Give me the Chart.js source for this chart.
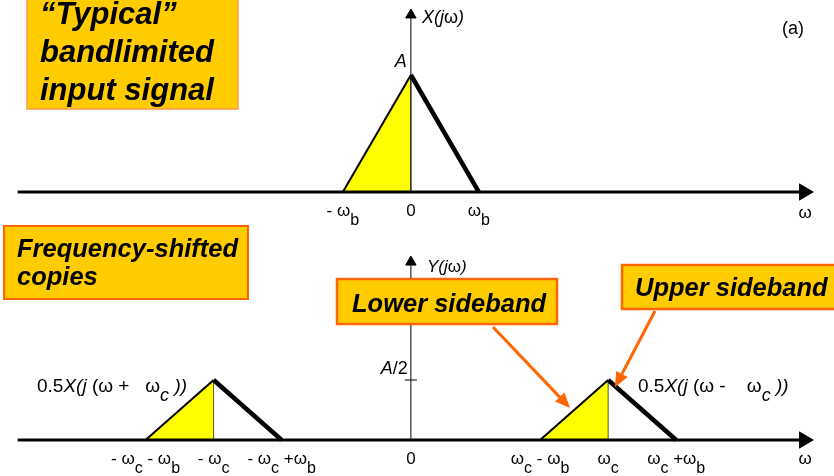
<!DOCTYPE html>
<html>
<head>
<meta charset="utf-8">
<script src="https://cdn.jsdelivr.net/npm/chart.js@4.4.0/dist/chart.umd.min.js"></script>
<style>
  body { margin: 0; background: #fff; }
  canvas { display: block; }
</style>
</head>
<body>
<canvas id="myChart" width="834" height="476"></canvas>
<script>
// frequencies in units of omega_b, magnitudes in units of A
const axisW = [-5.78, 5.78];
const topAxisHeight = 1.513;
const bottomAxisHeight = 1.483;

const inputW = [-1, 0, 1];
const inputMag = [0, 1, 0];

const lowerCopyW = [-3.9, -2.9, -1.9];
const upperCopyW = [1.9, 2.9, 3.9];
const copyMag = [0, 0.5, 0];

const topTickW = [-1, 0, 1];
const topTickText = ['- ω_b', '0', 'ω_b'];
const bottomTickW = [-3.9, -2.9, -1.9, 0, 1.9, 2.9, 3.9];
const bottomTickText = ['- ω_c - ω_b', '- ω_c', '- ω_c +ω_b', '0', 'ω_c - ω_b', 'ω_c', 'ω_c +ω_b'];
const halfTick = 0.5;

const FONT = '"Liberation Sans", Arial, sans-serif';
const YELLOW = '#FFFF00';
const GOLD = '#FFCC00';
const ORANGE = '#FF6600';

function pts(xs, ys) {
  return xs.map((x, i) => ({ x: x, y: ys[i] }));
}

// one triangle = yellow left half + thin left edge, centre line, thick right edge
function triangle(w, m, axisId) {
  return [
    {
      data: pts([w[0], w[1]], [m[0], m[1]]),
      yAxisID: axisId,
      fill: 'origin',
      backgroundColor: YELLOW,
      borderColor: '#000',
      borderWidth: 2,
      order: 5
    },
    {
      data: pts([w[1], w[1]], [0, m[1]]),
      yAxisID: axisId,
      borderColor: '#5a5a00',
      borderWidth: 1,
      order: 4
    },
    {
      data: pts([w[1], w[2]], [m[1], m[2]]),
      yAxisID: axisId,
      borderColor: '#000',
      borderWidth: 4.5,
      order: 1
    }
  ];
}

function axes(axisId, height) {
  return [
    {
      data: pts(axisW, [0, 0]),
      yAxisID: axisId,
      borderColor: '#000',
      borderWidth: 3,
      pointRadius: [0, 7],
      pointStyle: 'triangle',
      rotation: 90,
      pointBackgroundColor: '#000',
      pointBorderColor: '#000',
      order: 2
    },
    {
      data: pts([0, 0], [0, height]),
      yAxisID: axisId,
      borderColor: '#000',
      borderWidth: 1,
      pointRadius: [0, 6],
      pointStyle: 'triangle',
      rotation: 0,
      pointBackgroundColor: '#000',
      pointBorderColor: '#000',
      order: 3
    }
  ];
}

// rich text: * toggles italic, _x makes x a subscript
function parseRich(text) {
  let segs = [];
  let italic = false;
  for (let i = 0; i < text.length; i++) {
    let c = text[i];
    if (c === '*') { italic = !italic; continue; }
    let sub = false;
    if (c === '_') { sub = true; i++; c = text[i]; }
    let last = segs[segs.length - 1];
    if (last && last.italic === italic && last.sub === sub) last.t += c;
    else segs.push({ t: c, italic: italic, sub: sub });
  }
  return segs;
}

function richFont(seg, size) {
  return (seg.italic ? 'italic ' : '') + (seg.sub ? size - 1 : size) + 'px ' + FONT;
}

function drawRich(ctx, text, x, y, size, align) {
  const segs = parseRich(text);
  let total = 0;
  segs.forEach(s => { ctx.font = richFont(s, size); total += ctx.measureText(s.t).width; });
  let cx = align === 'center' ? x - total / 2 : (align === 'right' ? x - total : x);
  ctx.textAlign = 'left';
  ctx.textBaseline = 'alphabetic';
  segs.forEach(s => {
    ctx.font = richFont(s, size);
    ctx.fillText(s.t, cx, s.sub ? y + 9 : y);
    cx += ctx.measureText(s.t).width;
  });
}

function box(ctx, x, y, w, h, border, bw) {
  ctx.fillStyle = GOLD;
  ctx.fillRect(x, y, w, h);
  ctx.strokeStyle = border;
  ctx.lineWidth = bw;
  ctx.strokeRect(x, y, w, h);
}

function boxText(ctx, lines, x, y0, lh, size) {
  ctx.fillStyle = '#000';
  ctx.font = 'italic bold ' + size + 'px ' + FONT;
  ctx.textAlign = 'left';
  ctx.textBaseline = 'alphabetic';
  lines.forEach((l, i) => ctx.fillText(l, x, y0 + i * lh));
}

function arrow(ctx, x0, y0, x1, y1) {
  const ang = Math.atan2(y1 - y0, x1 - x0);
  const len = 15, hw = 6.5;
  const bx = x1 - Math.cos(ang) * len, by = y1 - Math.sin(ang) * len;
  ctx.strokeStyle = ORANGE;
  ctx.lineWidth = 3;
  ctx.beginPath();
  ctx.moveTo(x0, y0);
  ctx.lineTo(bx, by);
  ctx.stroke();
  ctx.fillStyle = ORANGE;
  ctx.beginPath();
  ctx.moveTo(x1, y1);
  ctx.lineTo(bx - Math.sin(ang) * hw, by + Math.cos(ang) * hw);
  ctx.lineTo(bx + Math.sin(ang) * hw, by - Math.cos(ang) * hw);
  ctx.closePath();
  ctx.fill();
}

const labelsPlugin = {
  id: 'labels',
  afterDatasetsDraw(chart) {
    const ctx = chart.ctx;
    const sx = chart.scales.x;
    const sy = chart.scales.y;
    const sy2 = chart.scales.y2;
    ctx.save();
    ctx.fillStyle = '#000';

    // tick labels
    const topBase = sy.getPixelForValue(0) + 24;
    topTickW.forEach((w, i) => drawRich(ctx, topTickText[i], sx.getPixelForValue(w), topBase, 17, 'center'));
    const botBase = sy2.getPixelForValue(0) + 24;
    bottomTickW.forEach((w, i) => drawRich(ctx, bottomTickText[i], sx.getPixelForValue(w), botBase, 17, 'center'));
    drawRich(ctx, 'ω', sx.getPixelForValue(axisW[1]) + 1, topBase + 2, 17, 'center');
    drawRich(ctx, 'ω', sx.getPixelForValue(axisW[1]) + 1, botBase, 17, 'center');

    // axis names and amplitude marks
    const x0 = sx.getPixelForValue(0);
    drawRich(ctx, '*X(j*ω*)*', x0 + 11, 23, 18, 'left');
    drawRich(ctx, '*A*', x0 - 10, sy.getPixelForValue(inputMag[1]) - 8, 18, 'center');
    drawRich(ctx, '*Y(j*ω*)*', x0 + 16, 272, 17, 'left');
    drawRich(ctx, '*A*/2', x0 - 3, sy2.getPixelForValue(halfTick) - 6, 18, 'right');
    drawRich(ctx, '(a)', 793, 34, 18, 'center');

    // copy labels
    drawRich(ctx, '0.5*X(j* (ω +   ω*_c ))*', 37, 392, 19, 'left');
    drawRich(ctx, '0.5*X(j* (ω -    ω*_c ))*', 638, 392, 19, 'left');

    // callout boxes
    box(ctx, 27, -5, 211, 114, '#FF9A4D', 1.5);
    boxText(ctx, ['“Typical”', 'bandlimited', 'input signal'], 40, 24, 38, 31);
    box(ctx, 4, 226, 244, 73, ORANGE, 2);
    boxText(ctx, ['Frequency-shifted', 'copies'], 17, 257, 28, 25.5);
    box(ctx, 337, 279, 220, 45, ORANGE, 2.5);
    boxText(ctx, ['Lower sideband'], 352, 312, 0, 25.5);
    box(ctx, 622, 265, 240, 44, ORANGE, 2.5);
    boxText(ctx, ['Upper sideband'], 635, 296, 0, 25.5);

    // callout arrows point at the sidebands
    arrow(ctx, 493, 327, sx.getPixelForValue(2.34), sy2.getPixelForValue(0.267));
    arrow(ctx, 655, 311, sx.getPixelForValue(3.0), sy2.getPixelForValue(0.44));
    ctx.restore();
  }
};

const datasets = []
  .concat(axes('y', topAxisHeight))
  .concat(triangle(inputW, inputMag, 'y'))
  .concat(axes('y2', bottomAxisHeight))
  .concat(triangle(lowerCopyW, copyMag, 'y2'))
  .concat(triangle(upperCopyW, copyMag, 'y2'))
  .concat([{
    data: pts([-0.09, 0.09], [halfTick, halfTick]),
    yAxisID: 'y2',
    borderColor: '#000',
    borderWidth: 1,
    order: 3
  }]);

datasets.forEach(d => {
  if (d.pointRadius === undefined) d.pointRadius = 0;
  if (d.fill === undefined) d.fill = false;
  d.tension = 0;
});

var ctx = document.getElementById('myChart');

var myChart = new Chart(ctx, {
  type: 'line',
  data: { datasets: datasets },
  options: {
    responsive: false,
    animation: false,
    layout: { padding: 0, autoPadding: false },
    plugins: { legend: { display: false }, tooltip: { enabled: false } },
    scales: {
      x: { type: 'linear', display: false, min: -6.04, max: 6.22 },
      y: { type: 'linear', display: false, min: -2.427, max: 1.641 },
      y2: { type: 'linear', display: false, min: -0.3, max: 3.667 }
    }
  },
  plugins: [labelsPlugin]
});
</script>
</body>
</html>
